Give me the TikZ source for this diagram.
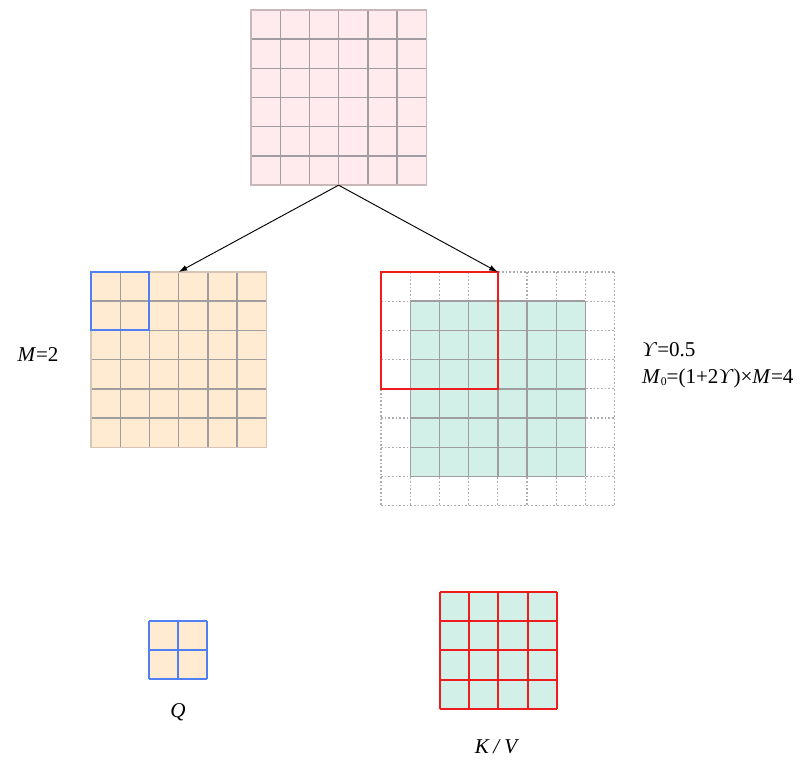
\documentclass[tikz,border=0pt]{standalone}
\usepackage{fontspec}
\setmainfont{Liberation Serif}
\usetikzlibrary{arrows.meta}
\definecolor{pinkcell}{HTML}{FFEBEE}
\definecolor{pinkedge}{HTML}{C9B6B8}
\definecolor{orangecell}{HTML}{FFEBD1}
\definecolor{orangeedge}{HTML}{D4C5B5}
\definecolor{greencell}{HTML}{D2EFE8}
\definecolor{cellline}{HTML}{A09DA0}
\definecolor{queryblue}{HTML}{4F7FF2}
\definecolor{windowred}{HTML}{EE1C1C}

\begin{document}
\begin{tikzpicture}[
  x=0.03cm,
  y=-0.03cm,
  line join=miter,
  cell/.style={draw=cellline,line width=0.42mm},
  pad/.style={draw=cellline!85,line width=0.4mm,dash pattern=on 0.5mm off 0.6mm},
  query/.style={draw=queryblue,line width=0.55mm},
  window/.style={draw=windowred,line width=0.6mm},
  link/.style={draw=black,line width=0.28mm,-{Latex[length=2.6mm,width=1.7mm]}},
  lbl/.style={font=\fontsize{18}{22}\selectfont,inner sep=0pt}
]
  \useasboundingbox (0,0) rectangle (801,760);
  \def\cellsz{29.2}

  % Source map, 6x6 cells.
  \fill[pinkcell] (251,10) rectangle ++(6*\cellsz,6*\cellsz);
  \foreach \i in {1,...,5} {
    \draw[cell] (251+\i*\cellsz,10) -- ++(0,6*\cellsz);
    \draw[cell] (251,10+\i*\cellsz) -- ++(6*\cellsz,0);
  }
  \draw[cell,draw=pinkedge] (251,10) rectangle ++(6*\cellsz,6*\cellsz);
  \coordinate (srcbase) at (251+3*\cellsz,10+6*\cellsz);

  % Query side: same 6x6 map, blue 2x2 window in the corner.
  \fill[orangecell] (91,272) rectangle ++(6*\cellsz,6*\cellsz);
  \foreach \i in {1,...,5} {
    \draw[cell] (91+\i*\cellsz,272) -- ++(0,6*\cellsz);
    \draw[cell] (91,272+\i*\cellsz) -- ++(6*\cellsz,0);
  }
  \draw[cell,draw=orangeedge] (91,272) rectangle ++(6*\cellsz,6*\cellsz);
  \draw[query] (91,272) rectangle ++(2*\cellsz,2*\cellsz);
  \coordinate (qtip) at (91+3*\cellsz,272);

  % Key/value side: padded 8x8 frame around the 6x6 map.
  \foreach \i in {0,...,8} {
    \draw[pad] (381+\i*\cellsz,272) -- ++(0,8*\cellsz);
    \draw[pad] (381,272+\i*\cellsz) -- ++(8*\cellsz,0);
  }
  \fill[greencell] (381+\cellsz,272+\cellsz) rectangle ++(6*\cellsz,6*\cellsz);
  \foreach \i in {0,...,6} {
    \draw[cell] (381+\cellsz+\i*\cellsz,272+\cellsz) -- ++(0,6*\cellsz);
    \draw[cell] (381+\cellsz,272+\cellsz+\i*\cellsz) -- ++(6*\cellsz,0);
  }
  \draw[window] (381,272) rectangle ++(4*\cellsz,4*\cellsz);
  \coordinate (kvtip) at (381+4*\cellsz,272);

  % Split arrows.
  \draw[link] (srcbase) -- (qtip);
  \draw[link] (srcbase) -- (kvtip);

  % Extracted blocks.
  \fill[orangecell] (149,621) rectangle ++(2*\cellsz,2*\cellsz);
  \foreach \i in {0,...,2} {
    \draw[query] (149+\i*\cellsz,621) -- ++(0,2*\cellsz);
    \draw[query] (149,621+\i*\cellsz) -- ++(2*\cellsz,0);
  }
  \fill[greencell] (440,592) rectangle ++(4*\cellsz,4*\cellsz);
  \foreach \i in {0,...,4} {
    \draw[window] (440+\i*\cellsz,592) -- ++(0,4*\cellsz);
    \draw[window] (440,592+\i*\cellsz) -- ++(4*\cellsz,0);
  }

  % Labels.
  \node[lbl] (msize) at (38,355) {\textit{M}=2};
  \node[lbl,anchor=west] (gamma) at (642,350) {\textit{ϒ}=0.5};
  \node[lbl,anchor=west] (mzero) at (642,378) {\textit{M}\raisebox{-0.3ex}{\fontsize{10}{12}\selectfont 0}=(1+2\textit{ϒ})×\textit{M}=4};
  \node[lbl] (qname) at (178,712) {\textit{Q}};
  \node[lbl] (kvname) at (497,747) {\textit{K}\,\textit{/}\,\textit{V}};
\end{tikzpicture}
\end{document}
